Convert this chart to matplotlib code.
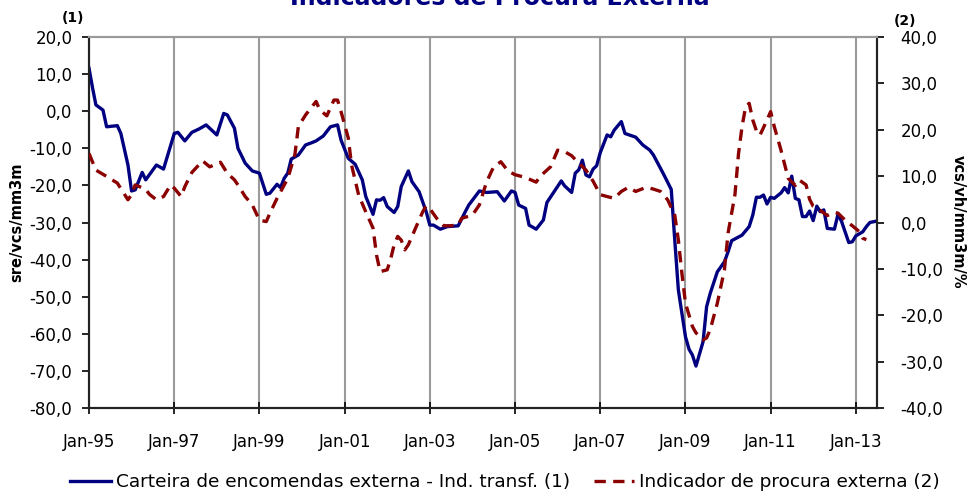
import matplotlib
matplotlib.use('Agg')
import matplotlib.pyplot as plt
import matplotlib.ticker as mticker
import pandas as pd

# months since Jan-95 and values
blue_month = [0, 1, 2, 4, 5, 8, 9, 11, 12, 13, 15, 16, 19, 21, 24, 25, 27, 29, 31, 33,
              36, 38, 39, 41, 42, 44, 46, 48, 50, 51, 53, 54, 55, 56, 57, 59, 61, 63, 64, 66,
              68, 70, 71, 73, 75, 77, 78, 80, 81, 82, 83, 84, 86, 87, 88, 90, 91, 93, 95, 96,
              97, 99, 101, 104, 106, 107, 110, 112, 115, 117, 119, 120, 121, 123, 124, 126, 128, 129, 131, 133,
              134, 136, 137, 138, 139, 140, 141, 142, 143, 144, 146, 147, 148, 150, 151, 154, 156, 158, 159, 161,
              162, 164, 165, 166, 168, 169, 170, 171, 173, 174, 175, 177, 179, 180, 181, 184, 186, 187, 188, 189,
              190, 191, 192, 193, 195, 196, 197, 198, 199, 200, 201, 202, 203, 204, 205, 206, 207, 208, 210, 211,
              212, 214, 215, 216, 218, 219, 220, 222]
blue_vals = [11.6, 6.2, 1.7, 0.3, -4.2, -3.9, -6.0, -14.5, -21.5, -21.2, -16.5, -18.5, -14.5, -15.6, -6.0, -5.7, -8.0, -5.7, -4.8, -3.7,
             -6.4, -0.6, -1.0, -4.6, -10.0, -14.0, -16.1, -16.7, -22.4, -22.1, -19.7, -20.6, -18.1, -16.7, -12.9, -11.8, -9.1, -8.4, -8.0, -6.7,
             -4.2, -3.7, -7.8, -12.7, -14.3, -18.5, -23.0, -27.8, -23.9, -24.0, -23.3, -25.7, -27.3, -25.7, -20.3, -16.1, -19.0, -21.7, -27.1, -30.7,
             -30.7, -31.8, -31.1, -30.9, -27.1, -25.3, -21.5, -21.9, -21.7, -24.2, -21.5, -21.9, -25.3, -26.2, -30.7, -31.8, -29.3, -24.6, -21.7, -18.8,
             -20.1, -21.9, -16.7, -15.8, -13.2, -17.2, -17.7, -15.6, -14.7, -11.2, -6.4, -6.9, -5.1, -2.8, -6.0, -7.0, -9.1, -10.5, -11.8, -15.4,
             -17.2, -21.1, -34.7, -48.2, -60.8, -64.2, -65.7, -68.7, -62.1, -52.7, -49.1, -43.3, -40.6, -37.9, -34.9, -33.4, -31.1, -28.0, -23.2, -23.2,
             -22.6, -25.0, -23.2, -23.5, -22.0, -20.6, -22.0, -17.5, -23.5, -23.9, -28.4, -28.4, -26.9, -29.5, -25.6, -27.1, -26.6, -31.6, -31.8, -27.7,
             -29.8, -35.4, -35.2, -33.6, -32.5, -31.1, -30.0, -29.6]

red_month = [0, 2, 4, 8, 11, 12, 13, 16, 17, 19, 21, 23, 24, 26, 27, 29, 32, 34, 37, 39,
             41, 42, 44, 46, 48, 50, 51, 53, 56, 58, 59, 61, 64, 65, 67, 69, 70, 71, 73, 74,
             76, 78, 80, 81, 82, 84, 85, 86, 87, 88, 89, 90, 92, 94, 95, 96, 98, 100, 102, 104,
             105, 108, 110, 112, 114, 116, 118, 120, 123, 126, 127, 130, 132, 134, 136, 138, 140, 142, 144, 146,
             148, 150, 152, 154, 157, 159, 161, 163, 165, 166, 167, 168, 170, 171, 173, 174, 175, 177, 179, 180,
             182, 183, 184, 185, 186, 187, 188, 189, 191, 192, 193, 195, 197, 199, 200, 202, 203, 204, 206, 208,
             210, 211, 213, 215, 217, 218, 219]
red_vals = [14.9, 11.3, 10.4, 8.5, 4.9, 6.0, 8.1, 7.2, 6.1, 4.9, 5.6, 8.1, 7.4, 5.6, 7.7, 10.8, 13.3, 12.0, 13.0, 10.6,
            9.2, 8.1, 5.6, 3.8, 0.5, 0.2, 2.0, 5.2, 9.5, 14.6, 20.7, 23.2, 26.1, 24.3, 23.0, 26.4, 26.4, 23.9, 18.2, 12.4,
            5.9, 2.3, -1.2, -7.0, -10.6, -10.2, -7.7, -4.8, -3.0, -3.8, -5.9, -4.8, -1.2, 2.3, 3.6, 3.0, 0.9, -0.7, -0.7, -0.5,
            0.9, 1.6, 3.8, 8.7, 12.0, 13.1, 11.1, 10.3, 9.7, 8.7, 9.9, 12.0, 15.6, 15.3, 14.4, 12.8, 11.3, 8.9, 6.0, 5.6,
            5.2, 6.7, 7.6, 6.7, 7.6, 7.2, 6.7, 4.9, 1.6, -3.8, -10.9, -17.4, -22.4, -23.8, -25.3, -24.9, -23.1, -17.4, -10.2, -2.3,
            6.0, 14.9, 20.7, 25.0, 25.7, 22.1, 19.8, 18.8, 22.1, 23.9, 20.7, 15.5, 9.5, 8.0, 9.2, 8.1, 5.0, 3.5, 2.6, 1.5,
            2.2, 2.0, 0.5, -0.7, -2.0, -3.4, -3.7]

tick_years = ['Jan-95', 'Jan-97', 'Jan-99', 'Jan-01', 'Jan-03', 'Jan-05',
              'Jan-07', 'Jan-09', 'Jan-11', 'Jan-13']

months = pd.date_range('1995-01-01', periods=223, freq='MS')
blue_dates = months[blue_month]
red_dates = months[red_month]

navy = '#000080'
maroon = '#8b0000'
gridc = '#9a9a9a'

plt.rcParams['font.family'] = 'DejaVu Sans'

fig = plt.figure(figsize=(9.7, 4.93), dpi=100)
ax = fig.add_axes([89/970, 1-408/493, (877-89)/970, (408-37)/493])
ax2 = ax.twinx()

l1, = ax.plot(blue_dates, blue_vals, color=navy, lw=2.4,
              label='Carteira de encomendas externa - Ind. transf. (1)', zorder=3)
l2, = ax2.plot(red_dates, red_vals, color=maroon, lw=2.4, ls=(0, (3.4, 2.2)),
               label='Indicador de procura externa (2)', zorder=3)

ax.set_xlim(months[0], months[222])
ax.set_ylim(-80, 20)
ax2.set_ylim(-40, 40)
ax.yaxis.set_major_locator(mticker.MultipleLocator(10))
ax2.yaxis.set_major_locator(mticker.MultipleLocator(10))
fmt = mticker.FuncFormatter(lambda v, p: ('%.1f' % v).replace('.', ','))
ax.yaxis.set_major_formatter(fmt)
ax2.yaxis.set_major_formatter(fmt)

ax.set_xticks(months[::24])
ax.set_xticklabels(tick_years)
ax.grid(axis='x', color=gridc, lw=1.5)
ax.set_axisbelow(True)

ax.tick_params(axis='y', labelsize=12, length=5, width=1.2, pad=7, colors='black')
ax2.tick_params(axis='y', labelsize=12, length=5, width=1.2, pad=12)
ax.tick_params(axis='x', labelsize=12, length=8, width=1.2, direction='inout', pad=14)

for a in (ax, ax2):
    a.spines['top'].set_color(gridc)
    a.spines['top'].set_linewidth(1.5)
    for s in ('left', 'right', 'bottom'):
        a.spines[s].set_color('#222222')
        a.spines[s].set_linewidth(1.5)

fig.text(17/970, 1-222/493, 'sre/vcs/mm3m', rotation=90, fontsize=10.5,
         fontweight='bold', ha='center', va='center')
fig.text(958/970, 1-222/493, 'vcs/vh/mm3m/%', rotation=270, fontsize=10.5,
         fontweight='bold', ha='center', va='center')
fig.text(73/970, 1-18/493, '(1)', fontsize=10, fontweight='bold', ha='center', va='center')
fig.text(905/970, 1-21/493, '(2)', fontsize=10, fontweight='bold', ha='center', va='center')

# title is clipped at the top edge, as in the source image
fig.text(500/970, 1-5/493, 'Indicadores de Procura Externa', fontsize=17,
         fontweight='bold', color=navy, ha='center', va='baseline')

fig.legend(handles=[l1, l2], loc='center', bbox_to_anchor=(505/970, 1-482/493),
           ncol=2, frameon=False, fontsize=13.3, handlelength=2.2, columnspacing=1.3,
           handletextpad=0.25)

plt.savefig('out.png', dpi=100)
